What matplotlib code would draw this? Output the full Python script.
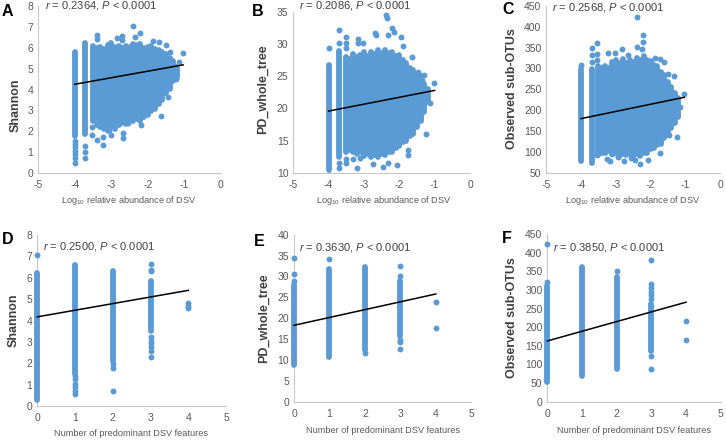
import matplotlib
matplotlib.use("Agg")
import matplotlib.pyplot as plt

plt.rcParams["font.family"] = ["Liberation Sans", "DejaVu Sans"]
plt.rcParams["mathtext.fontset"] = "custom"
plt.rcParams["mathtext.rm"] = "Liberation Sans"
plt.rcParams["mathtext.it"] = "Liberation Sans:italic"
plt.rcParams["mathtext.default"] = "regular"

W, H = 726, 440
BLUE = "#5b9bd5"
GREY = "#595959"

# body of the top row clouds, read column by column
cloud_x = [-3.5, -3.4, -3.3, -3.2, -3.1, -3.0, -2.9, -2.8, -2.7, -2.6, -2.5, -2.4,
           -2.3, -2.2, -2.1, -2.0, -1.9, -1.8, -1.7, -1.6, -1.5, -1.4, -1.3, -1.2]

a_high = [6.1, 6.0, 6.05, 5.95, 6.15, 6.25, 6.05, 6.1, 6.0, 6.1, 6.05, 6.2,
          6.15, 6.2, 6.0, 6.05, 6.1, 5.95, 5.9, 5.8, 5.7, 5.5, 5.35, 5.1]
a_low = [2.5, 2.3, 2.2, 2.1, 2.0, 2.2, 2.1, 2.3, 2.4, 2.35, 2.55, 2.5,
         2.6, 2.5, 2.7, 2.8, 2.95, 3.05, 3.3, 3.5, 3.85, 4.0, 4.4, 4.6]
a_col_x = [-4.0, -3.71]
a_col_low = [1.75, 1.85]
a_col_high = [5.8, 6.25]
a_pts_x = [-4, -4, -4, -4, -4, -4, -4, -3.71, -3.71, -3.71, -3.4, -3.4, -2.85, -2.7, -2.7,
           -2.4, -2.35, -2.2, -1.86, -1.7, -1.5, -1.38, -1.03, -1.14, -1.23, -1.45, -1.63,
           -2.18, -2.53, -2.67, -2.68, -3.05, -3.24, -3.22, -3.4, -3.54, -3.54, -3.0]
a_pts_y = [0.5, 0.7, 0.9, 1.05, 1.25, 1.4, 1.55, 1.3, 1.0, 0.7, 6.6, 6.4, 6.45, 6.55, 6.37,
           7.05, 6.5, 6.7, 6.33, 6.26, 6.15, 5.78, 5.75, 5.33, 4.52, 3.66, 2.72,
           2.32, 2.38, 1.9, 1.68, 2.06, 1.34, 1.74, 1.57, 1.82, 2.22, 1.82]
a_line_x = [-4.0, -1.03]
a_line_y = [4.25, 5.18]

b_high = [28.0, 27.6, 28.5, 28.0, 28.3, 28.8, 28.2, 28.8, 28.4, 29.0, 28.6, 29.0,
          28.6, 28.7, 28.2, 28.3, 27.5, 27.0, 26.3, 26.0, 25.2, 25.0, 23.8, 23.0]
b_low = [13.3, 13.6, 13.3, 13.0, 13.2, 12.7, 13.0, 12.5, 12.8, 12.5, 12.9, 12.8,
         13.2, 13.3, 13.8, 14.2, 14.8, 15.0, 15.7, 16.0, 17.2, 18.0, 19.5, 21.0]
b_col_x = [-4.0, -3.7]
b_col_low = [10.5, 12.5]
b_col_high = [26.8, 28.9]
b_pts_x = [-4, -3.7, -3.7, -3.7, -3.7, -3.52, -3.52, -3.52, -3.16, -3.16, -3.02, -2.69, -2.66,
           -2.39, -2.34, -2.2, -2.31, -2.14, -1.95, -1.9, -1.65, -1.46, -1.3, -1.37, -1.02,
           -1.13, -1.25, -1.75, -1.75, -2.06, -2.31, -2.45, -2.74, -3.1, -3.2, -3.3, -3.52, -3.52]
b_pts_y = [29.4, 10.8, 11.5, 30.2, 32.2, 31.1, 30.2, 29.4, 30.7, 30.2, 30.2, 31.7, 31.4,
           34.5, 34.1, 32.5, 31.4, 31.8, 31.1, 29.7, 28.0, 25.7, 25.2, 24.4, 23.9,
           20.8, 16.0, 13.5, 12.8, 11.2, 11.6, 11.0, 11.4, 12.4, 10.7, 12.1, 12.2, 11.5]
b_line_x = [-4.0, -1.0]
b_line_y = [19.6, 22.8]

c_high = [305, 300, 306, 300, 315, 320, 312, 322, 312, 320, 316, 325,
          320, 330, 320, 318, 308, 305, 292, 285, 268, 255, 242, 230]
c_low = [92, 98, 98, 102, 95, 98, 88, 95, 92, 96, 88, 95,
         90, 98, 98, 108, 110, 118, 120, 133, 140, 158, 170, 185]
c_col_x = [-4.0, -3.69]
c_col_low = [78, 75]
c_col_high = [298, 298]
c_pts_x = [-4, -3.69, -3.69, -3.69, -3.53, -3.53, -3.53, -3.23, -3.02, -2.83, -2.66, -2.4, -2.21,
           -2.21, -2.38, -2.25, -1.87, -1.73, -1.6, -1.5, -1.32, -1.03, -1.15, -1.25, -1.39,
           -1.46, -1.25, -1.73, -1.92, -2.07, -2.31, -2.45, -2.57, -2.76, -2.93, -3.12, -3.17,
           -3.24, -3.3, -3.53]
c_pts_y = [308, 316, 333, 349, 360, 334, 320, 336, 338, 346, 332, 423, 381,
           363, 352, 346, 324, 322, 316, 287, 283, 239, 208, 189, 170,
           141, 137, 99, 121, 80, 72, 81, 85, 79, 89, 95, 79,
           83, 101, 93]
c_line_x = [-4.0, -1.03]
c_line_y = [180, 231]

d_col_x = [0, 1, 2, 3]
d_col_low = [0.3, 1.5, 2.1, 3.5]
d_col_high = [6.2, 6.6, 6.3, 5.85]
d_pts_x = [0, 1, 1, 1, 1, 1, 1, 2, 2, 2, 3, 3, 3, 3, 3, 3, 3, 3, 3, 4, 4, 4]
d_pts_y = [7.05, 0.55, 0.7, 0.9, 1.05, 1.25, 1.4, 1.8, 1.95, 0.7,
           2.3, 2.55, 2.75, 2.95, 3.05, 3.25, 6.3, 6.35, 6.65, 4.6, 4.7, 4.8]
d_line_x = [0, 4]
d_line_y = [4.17, 5.41]

e_col_x = [0, 1, 2, 3]
e_col_low = [8.9, 10.7, 12.5, 15.7]
e_col_high = [28.0, 31.8, 32.2, 28.8]
e_pts_x = [0, 0, 0, 1, 2, 3, 3, 3, 3, 3, 4, 4]
e_pts_y = [29.0, 30.5, 34.4, 34.1, 11.7, 12.7, 14.4, 14.7, 30.1, 32.6, 17.6, 23.8]
e_line_x = [0, 4]
e_line_y = [18.3, 25.8]

f_col_x = [0, 1, 2, 3]
f_col_low = [52, 70, 88, 135]
f_col_high = [310, 362, 335, 262]
f_pts_x = [0, 0, 2, 3, 3, 3, 3, 3, 3, 3, 3, 4, 4]
f_pts_y = [320, 423, 350, 88, 123, 275, 285, 295, 305, 315, 380, 165, 216]
f_line_x = [0, 4]
f_line_y = [163, 267]

top_ticks = [-5, -4, -3, -2, -1, 0]
bottom_ticks = [0, 1, 2, 3, 4, 5]
a_yticks = [0, 1, 2, 3, 4, 5, 6, 7, 8]
b_yticks = [10, 15, 20, 25, 30, 35]
c_yticks = [50, 100, 150, 200, 250, 300, 350, 400, 450]
d_yticks = [0, 1, 2, 3, 4, 5, 6, 7, 8]
e_yticks = [0, 5, 10, 15, 20, 25, 30, 35, 40]
f_yticks = [0, 50, 100, 150, 200, 250, 300, 350, 400, 450]

fig = plt.figure(figsize=(W / 100, H / 100), dpi=100)


def label(x, y, s, **kw):
    # positions in picture pixels, y downwards
    fig.text(x / W, 1 - y / H, s, va="center", **kw)


def panel(box, xticks, yticks, col, pts, line, cloud=None):
    left, right, top, bottom = box
    ax = fig.add_axes([left / W, 1 - bottom / H, (right - left) / W, (bottom - top) / H])
    ax.set_facecolor("none")
    ax.set_xlim(xticks[0], xticks[-1])
    ax.set_ylim(yticks[0], yticks[-1])
    ax.set_xticks(xticks)
    ax.set_yticks(yticks)
    ax.tick_params(length=0, labelsize=7.5, labelcolor=GREY)
    ax.tick_params(axis="x", pad=5)
    ax.tick_params(axis="y", pad=3.5)
    ax.spines["top"].set_visible(False)
    ax.spines["right"].set_visible(False)
    ax.spines["left"].set_color("#c8c8c8")
    ax.spines["bottom"].set_color("#c8c8c8")
    ax.xaxis.set_major_formatter(lambda v, p: f"{v:g}")

    ax.vlines(col[0], col[1], col[2], color=BLUE, lw=4.2, capstyle="round",
              clip_on=False, zorder=3)
    if cloud is not None:
        # fill first so no seams show between the columns
        ax.fill_between(cloud_x, cloud[1], cloud[0], color=BLUE, lw=0, zorder=3)
        ax.vlines(cloud_x, cloud[1], cloud[0], color=BLUE, lw=4.2, capstyle="round",
                  clip_on=False, zorder=3)
    ax.scatter(pts[0], pts[1], s=18, color=BLUE, linewidths=0, clip_on=False, zorder=3)
    ax.plot(line[0], line[1], color="black", lw=1.1, zorder=4, clip_on=False)
    return ax


TOP_X = "Log$_{10}$ relative abundance of DSV"
BOTTOM_X = "Number of predominant DSV features"

panel((38.3, 220.7, 6, 173), top_ticks, a_yticks, (a_col_x, a_col_low, a_col_high),
      (a_pts_x, a_pts_y), (a_line_x, a_line_y), (a_high, a_low))
panel((293.3, 470, 11.7, 173), top_ticks, b_yticks, (b_col_x, b_col_low, b_col_high),
      (b_pts_x, b_pts_y), (b_line_x, b_line_y), (b_high, b_low))
panel((546.3, 720, 5.7, 173), top_ticks, c_yticks, (c_col_x, c_col_low, c_col_high),
      (c_pts_x, c_pts_y), (c_line_x, c_line_y), (c_high, c_low))
panel((37.3, 226, 235, 406), bottom_ticks, d_yticks, (d_col_x, d_col_low, d_col_high),
      (d_pts_x, d_pts_y), (d_line_x, d_line_y))
panel((294, 471.3, 234.7, 401.7), bottom_ticks, e_yticks, (e_col_x, e_col_low, e_col_high),
      (e_pts_x, e_pts_y), (e_line_x, e_line_y))
panel((547.3, 720.7, 234, 401.7), bottom_ticks, f_yticks, (f_col_x, f_col_low, f_col_high),
      (f_pts_x, f_pts_y), (f_line_x, f_line_y))

# panel letters
label(7.5, 12, "A", fontsize=11.5, fontweight="bold", ha="center")
label(257.7, 11, "B", fontsize=11.5, fontweight="bold", ha="center")
label(508, 9.5, "C", fontsize=11.5, fontweight="bold", ha="center")
label(7.5, 239, "D", fontsize=11.5, fontweight="bold", ha="center")
label(259, 241, "E", fontsize=11.5, fontweight="bold", ha="center")
label(507, 238, "F", fontsize=11.5, fontweight="bold", ha="center")

# y titles
for x, y, s in [(15.7, 105, "Shannon"), (263, 89, "PD_whole_tree"), (512, 89, "Observed sub-OTUs"),
                (14, 320, "Shannon"), (264, 318, "PD_whole_tree"), (512, 318, "Observed sub-OTUs")]:
    label(x, y, s, fontsize=9, fontweight="bold", color="#404040", rotation=90, ha="center")

# x titles
for x, y, s in [(129, 200, TOP_X), (384, 200, TOP_X), (633, 200, TOP_X),
                (131, 433, BOTTOM_X), (383, 430, BOTTOM_X), (634, 430, BOTTOM_X)]:
    label(x, y, s, fontsize=6.6, color=GREY, ha="center")

# r and P values
for x, y, r in [(45, 6, "0.2364"), (299, 5, "0.2086"), (552, 7, "0.2568"),
                (43, 246, "0.2500"), (299, 247, "0.3630"), (553, 247, "0.3850")]:
    label(x, y, "$\\it{r}$ = " + r + ", $\\it{P}$ < 0.0001", fontsize=8, color="#404040", ha="left")

fig.savefig("out.png", dpi=100)
